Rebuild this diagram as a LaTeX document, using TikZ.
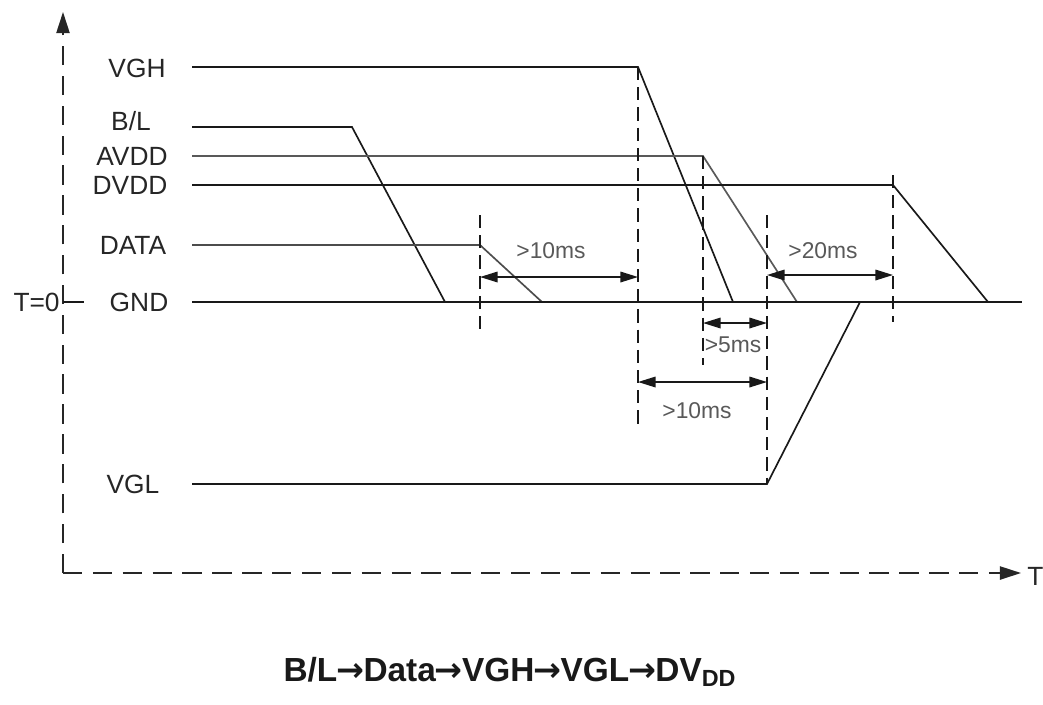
\documentclass[tikz,border=0pt]{standalone}
\usepackage{fontspec}
\setmainfont{Liberation Sans}
\newfontfamily\arrowfont{DejaVu Sans}
\usepackage{tikz}
\usetikzlibrary{arrows.meta}
\newcommand{\seqarrow}{{\arrowfont\bfseries\kern-0.5pt→\kern-0.5pt}}

\begin{document}
\begin{tikzpicture}[
    x=0.02cm, y=-0.02cm,
    sig/.style={draw=black!90, line width=0.95pt},
    lbl/.style={font=\fontsize{15}{17}\selectfont, text=black!85, inner sep=0pt},
    axis/.style={draw=black!85, line width=1pt, dash pattern=on 11pt off 6pt, -{Triangle[length=12pt,width=7.5pt]}},
    guide/.style={draw=black!90, line width=0.9pt, dash pattern=on 7.5pt off 4pt},
    dim/.style={draw=black!90, line width=0.9pt, {Triangle[length=10pt,width=6pt]}-{Triangle[length=10pt,width=6pt]}},
    dimlbl/.style={font=\fontsize{13}{15}\selectfont, text=black!65, inner sep=0pt}
]

\useasboundingbox (0,0) rectangle (1043,704);

% axes
\coordinate (origin) at (63,573);
\coordinate (ytop) at (63,12);
\coordinate (xend) at (1021,573);
\draw[axis] (origin) -- (ytop);
\draw[axis] (origin) -- (xend);
\node[lbl, anchor=west] (tlbl) at (1027,576) {T};
\node[lbl, anchor=east] (tzero) at (60,302) {T=0};
\coordinate (tzeroA) at (63,302);
\coordinate (tzeroB) at (84,302);
\draw[sig] (tzeroA) -- (tzeroB);

% signal names
\node[lbl] (vgh) at (137,68) {VGH};
\node[lbl] (bl) at (131,121) {B/L};
\node[lbl] (avdd) at (132,156) {AVDD};
\node[lbl] (dvdd) at (130,185) {DVDD};
\node[lbl] (data) at (133,245) {DATA};
\node[lbl] (gnd) at (139,302) {GND};
\node[lbl] (vgl) at (133,484) {VGL};

% waveform corners
\coordinate (vghA) at (192,67);   \coordinate (vghB) at (638,67);   \coordinate (vghC) at (733,302);
\coordinate (blA) at (192,127);   \coordinate (blB) at (352,127);   \coordinate (blC) at (445,302);
\coordinate (avddA) at (192,156); \coordinate (avddB) at (703,156); \coordinate (avddC) at (797,302);
\coordinate (dvddA) at (192,185); \coordinate (dvddB) at (893,185); \coordinate (dvddC) at (988,302);
\coordinate (dataA) at (192,245); \coordinate (dataB) at (480,245); \coordinate (dataC) at (542,302);
\coordinate (gndA) at (192,302);  \coordinate (gndB) at (1022,302);
\coordinate (vglA) at (192,484);  \coordinate (vglB) at (767,484);  \coordinate (vglC) at (860,302);

\draw[sig] (vghA) -- (vghB) -- (vghC);
\draw[sig] (blA) -- (blB) -- (blC);
\draw[sig, draw=black!65] (avddA) -- (avddB) -- (avddC);
\draw[sig] (dvddA) -- (dvddB) -- (dvddC);
\draw[sig, draw=black!70] (dataA) -- (dataB) -- (dataC);
\draw[sig] (gndA) -- (gndB);
\draw[sig] (vglA) -- (vglB) -- (vglC);

% timing guides
\coordinate (g1top) at (480,215); \coordinate (g1bot) at (480,330);
\coordinate (g2bot) at (638,425);
\coordinate (g3bot) at (703,365);
\coordinate (g4top) at (767,215);
\coordinate (g5top) at (893,175); \coordinate (g5bot) at (893,322);
\draw[guide] (g1top) -- (g1bot);
\draw[guide] (vghB) -- (g2bot);
\draw[guide] (avddB) -- (g3bot);
\draw[guide] (g4top) -- (vglB);
\draw[guide] (g5top) -- (g5bot);

% intervals
\coordinate (d1a) at (480,277); \coordinate (d1b) at (638,277);
\coordinate (d2a) at (767,275); \coordinate (d2b) at (893,275);
\coordinate (d3a) at (703,323); \coordinate (d3b) at (767,323);
\coordinate (d4a) at (638,382); \coordinate (d4b) at (767,382);
\draw[dim] (d1a) -- (d1b);
\draw[dim] (d2a) -- (d2b);
\draw[dim] (d3a) -- (d3b);
\draw[dim] (d4a) -- (d4b);
\node[dimlbl] (t1) at (551,251) {>10ms};
\node[dimlbl] (t2) at (823,251) {>20ms};
\node[dimlbl] (t3) at (733,345) {>5ms};
\node[dimlbl] (t4) at (697,411) {>10ms};

% sequence
\node[font=\fontsize{19}{21}\selectfont\bfseries, text=black!90] (seq) at (510,672)
  {B/L\seqarrow Data\seqarrow VGH\seqarrow VGL\seqarrow DV\textsubscript{DD}};

\end{tikzpicture}
\end{document}
